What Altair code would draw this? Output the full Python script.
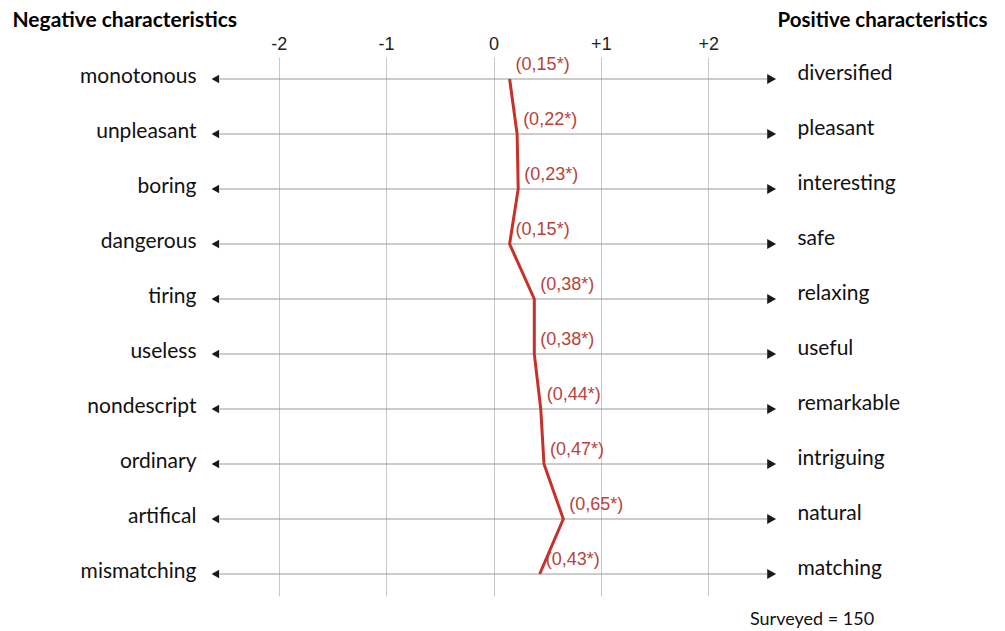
import altair as alt
import pandas as pd

# ---- data ----
negative = ["monotonous", "unpleasant", "boring", "dangerous", "tiring",
            "useless", "nondescript", "ordinary", "artifical", "mismatching"]
positive = ["diversified", "pleasant", "interesting", "safe", "relaxing",
            "useful", "remarkable", "intriguing", "natural", "matching"]
values = [0.15, 0.22, 0.23, 0.15, 0.38, 0.38, 0.44, 0.47, 0.65, 0.43]
tick_values = [-2, -1, 0, 1, 2]

labels = ["(" + f"{v:.2f}".replace(".", ",") + "*)" for v in values]

ARROW_END = 2.59
RULE_END = 2.55

df = pd.DataFrame({
    "neg": negative,
    "pos": positive,
    "val": values,
    "label": labels,
    "idx": list(range(len(values))),
    "lo": -RULE_END,
    "hi": RULE_END,
    "left": -ARROW_END,
    "right": ARROW_END,
})

xscale = alt.Scale(domain=[-2.64, 2.64], nice=False, zero=False)
xaxis = alt.Axis(
    orient="top", values=tick_values, title=None,
    labelExpr="datum.value > 0 ? '+' + datum.value : '' + datum.value",
    labelFont="Liberation Sans", labelFontSize=18, labelColor="#222222",
    labelPadding=4, tickSize=0, ticks=False, domain=False,
    grid=True, gridColor="#c8c8c8", gridWidth=1,
)

left_axis = alt.Axis(
    orient="left", title="Negative characteristics", titleAngle=0,
    titleAlign="left", titleBaseline="middle", titleX=-198, titleY=-37,
    titleFont="Lato", titleFontSize=21, titleFontWeight="bold", titleColor="#000000",
    labelFont="Lato", labelFontSize=21, labelColor="#111111", labelPadding=14,
    labelOffset=-3,
    ticks=False, tickSize=0, domain=False, grid=False,
)
right_axis = alt.Axis(
    orient="right", title="Positive characteristics", titleAngle=0,
    titleAlign="left", titleBaseline="middle", titleX=0, titleY=-37,
    titleFont="Lato", titleFontSize=20.5, titleFontWeight="bold", titleColor="#000000",
    labelFont="Lato", labelFontSize=21, labelColor="#111111", labelPadding=20,
    labelOffset=-6,
    ticks=False, tickSize=0, domain=False, grid=False,
)

yneg = alt.Y("neg:N", scale=alt.Scale(type="point", padding=0.4, domain=negative), axis=left_axis)
ypos = alt.Y("pos:N", scale=alt.Scale(type="point", padding=0.4, domain=positive), axis=right_axis)

base = alt.Chart(df)

rules = base.mark_rule(color="#9a9a9a", strokeWidth=1.2).encode(
    x=alt.X("lo:Q", scale=xscale, axis=xaxis), x2="hi:Q", y=yneg)

left_arrows = base.mark_point(shape="triangle-left", filled=True, size=75,
                              color="#1a1a1a", opacity=1).encode(
    x=alt.X("left:Q", scale=xscale, axis=xaxis), y=yneg)

line = base.mark_line(color="#c8302a", strokeWidth=3).encode(
    x=alt.X("val:Q", scale=xscale, axis=xaxis), y=yneg, order="idx:Q")

texts = base.mark_text(align="left", baseline="middle", dx=6, dy=-14,
                       font="Liberation Sans", fontSize=18, color="#b9433b").encode(
    x=alt.X("val:Q", scale=xscale, axis=xaxis), y=yneg, text="label:N")

layer_neg = alt.layer(rules, left_arrows, line, texts)

right_arrows = base.mark_point(shape="triangle-right", filled=True, size=105,
                               color="#1a1a1a", opacity=1).encode(
    x=alt.X("right:Q", scale=xscale, axis=xaxis), y=ypos)

chart = alt.layer(layer_neg, right_arrows).resolve_scale(y="independent").properties(
    width=567, height=539,
    title=alt.TitleParams(text="Surveyed = 150", orient="bottom", anchor="start",
                          frame="group", dx=540, offset=15, font="Lato",
                          fontSize=18, fontWeight="normal", color="#111111"),
    autosize=alt.AutoSizeParams(type="none"),
    padding={"left": 202, "top": 49, "right": 219, "bottom": 35},
).configure_view(stroke=None)

chart.save("out.html", embed_options={"renderer": "svg", "actions": False})
